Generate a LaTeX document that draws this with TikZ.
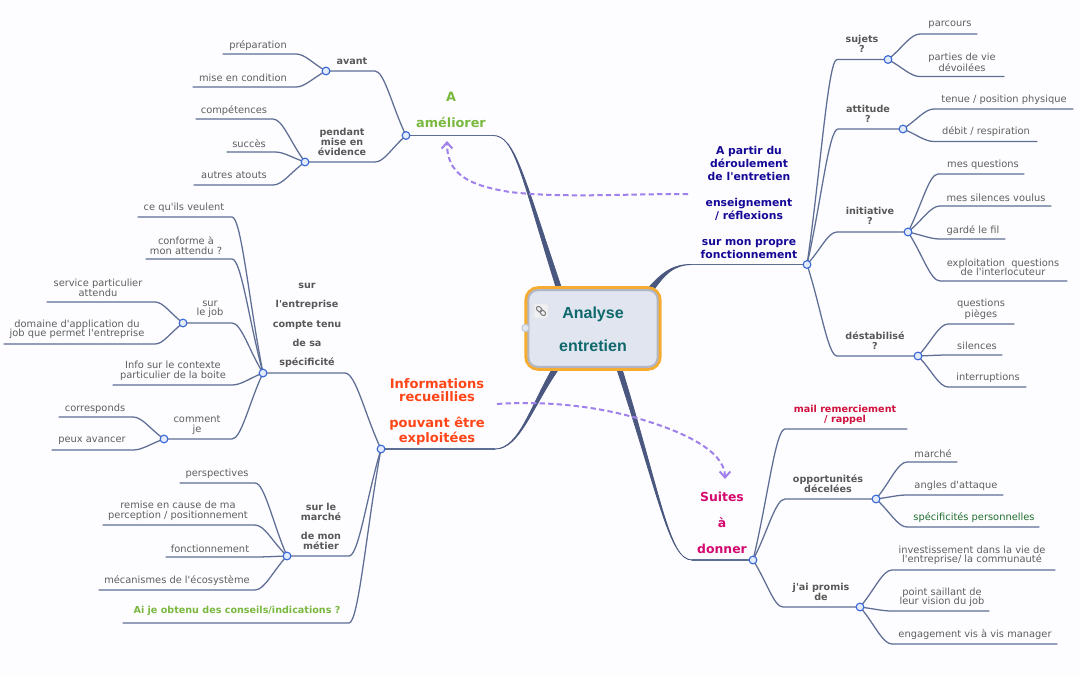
\documentclass[tikz,border=0pt]{standalone}
\usepackage{fontspec}
\setmainfont{DejaVu Sans}
\newfontfamily\plainf{DejaVu Sans}
\newfontfamily\rootfont{Liberation Sans}
\usetikzlibrary{calc,arrows.meta}
\pgfdeclarelayer{backdrop}
\pgfdeclarelayer{wires}
\pgfsetlayers{backdrop,wires,main}
\definecolor{wirecol}{HTML}{5F6E94}
\definecolor{maincol}{HTML}{4A5880}
\definecolor{leaftxt}{HTML}{5E5E5E}
\definecolor{boldtxt}{HTML}{585858}
\definecolor{dashcol}{HTML}{A080EA}
\definecolor{dotring}{HTML}{3A6AD8}
\definecolor{dotfill}{HTML}{E4EBFA}
\tikzset{
  x=0.75pt,y=-0.75pt,
  wire/.style={draw=wirecol,line width=0.95pt,line cap=round,line join=round},
  dotnode/.style={circle,draw=dotring,fill=dotfill,line width=0.85pt,minimum size=5.8pt,inner sep=0pt},
  leaftext/.style={font=\plainf\fontsize{7.4}{7.3}\selectfont,text=leaftxt,align=center,inner sep=0pt,yshift=-1pt},
  subtext/.style={font=\plainf\fontsize{7.2}{7.3}\selectfont\bfseries,text=boldtxt,align=center,inner sep=0pt},
  bigtext/.style={font=\plainf\fontsize{#1}{9.75}\selectfont\bfseries,align=center,inner sep=0pt},
  dasharrow/.style={draw=dashcol,line width=1.5pt,dash pattern=on 4pt off 2.4pt,-{Straight Barb[length=4.5pt,width=8pt,line width=1.5pt]}},
}
\newcommand{\wireto}[3]{%
  \begin{pgfonlayer}{wires}
  \draw[wire] (#1.center) .. controls ($(#1.center)!0.45!(#2)$) and ($(#2)!0.3!(#2 -| #1.center)$) .. (#2) -- (#3);
  \end{pgfonlayer}}
% parent, id, elbow x, y, end x, text x, text y, text
\newcommand{\leafbr}[8]{%
  \coordinate (#2e) at (#3,#4);
  \coordinate (#2f) at (#5,#4);
  \wireto{#1}{#2e}{#2f}
  \node[leaftext] (#2) at (#6,#7) {#8};}
% parent, id, elbow x, y, dot x, text x, text y, text
\newcommand{\subbr}[8]{%
  \node[dotnode] (#2) at (#5,#4) {};
  \coordinate (#2e) at (#3,#4);
  \wireto{#1}{#2e}{#2.center}
  \node[subtext] (#2t) at (#6,#7) {#8};}
% dot, elbow, two control points, two root points, two control points
\newcommand{\mainbr}[8]{%
  \begin{pgfonlayer}{wires}
  \filldraw[draw=maincol,fill=maincol,line width=0.6pt,line join=round] (#2) .. controls #3 and #4 .. #5 -- #6 .. controls #7 and #8 .. (#2) -- cycle;
  \draw[wire] (#1.center) -- (#2);
  \end{pgfonlayer}}
\begin{document}
\begin{tikzpicture}
\useasboundingbox (0,0) rectangle (1080,675);
\begin{pgfonlayer}{backdrop}
\fill[white!99.4!blue] (0,0) rectangle (1080,675);
\end{pgfonlayer}

% central topic
\node[draw={rgb,255:red,245;green,172;blue,48},line width=3pt,rounded corners=9pt,minimum width=100pt,minimum height=60.5pt,inner sep=0pt] (rootframe) at (593,328.5) {};
\node[draw={rgb,255:red,176;green,182;blue,196},line width=1.5pt,fill={rgb,255:red,224;green,229;blue,240},rounded corners=7pt,minimum width=97pt,minimum height=57.5pt,inner sep=0pt] (rootbox) at (593,328.5) {};
\node[inner sep=0pt,align=center,font=\rootfont\fontsize{12}{24.75}\selectfont\bfseries,text={rgb,255:red,14;green,104;blue,108}] (root) at (593,329.5) {Analyse\\entretien};
\node[circle,draw={rgb,255:red,190;green,198;blue,212},fill={rgb,255:red,226;green,231;blue,240},line width=0.75pt,minimum size=5.5pt,inner sep=0pt] (handle) at (525.5,328) {};
\node[draw={rgb,255:red,232;green,232;blue,236},fill={rgb,255:red,240;green,240;blue,242},rounded corners=1pt,minimum size=10.5pt,inner sep=0pt] (linkicon) at (541,311) {};
\foreach \d in {-2.6,2.6}
  \draw[gray,line width=0.8pt,rounded corners=1pt,rotate around={-45:(541,311)}] ($(541,311)+(\d-3,-2)$) rectangle ($(541,311)+(\d+3,2)$);

% main dots
\node[dotnode] (dA) at (406,135.5) {};
\node[dotnode] (dB) at (807,264.5) {};
\node[dotnode] (dC) at (381,449) {};
\node[dotnode] (dD) at (753,560) {};

% thick branches
\coordinate (eA) at (493,135.5);
\coordinate (eB) at (692,264.5);
\coordinate (eC) at (495,449);
\coordinate (eD) at (692,560);
\mainbr{dA}{eA}{(515,135.2)}{(521,175.5)}{(557.5,292)}{(562.5,291)}{(523,174.5)}{(515,135.8)}
\mainbr{dB}{eB}{(674,264.2)}{(663,271)}{(646.5,290)}{(651,294)}{(665,273)}{(674,264.8)}
\mainbr{dC}{eC}{(520,448.6)}{(531,403.5)}{(555.5,363.5)}{(560.5,366.5)}{(533,404.5)}{(520,449.4)}
\mainbr{dD}{eD}{(669,559.6)}{(659,495.5)}{(614.5,362)}{(619.5,361)}{(661,494.5)}{(669,560.4)}

% A améliorer
\node[bigtext=9.6,text={rgb,255:red,122;green,184;blue,64}] (lA) at (451,110) {A\\~\\améliorer};
\subbr{dA}{avant}{375}{71}{326}{352}{61}{avant}
\leafbr{avant}{prep}{296}{54}{223}{258}{44}{préparation}
\leafbr{avant}{cond}{296}{87}{193}{243}{76}{mise en condition}
\subbr{dA}{pend}{375}{162}{305}{342}{142}{pendant\\mise en\\évidence}
\leafbr{pend}{comp}{273}{119}{196}{234}{109}{compétences}
\leafbr{pend}{succ}{275}{152}{227}{249}{142}{succès}
\leafbr{pend}{atou}{273}{185}{194}{234}{174}{autres atouts}

% A partir
\node[bigtext=8.1,text={rgb,255:red,20;green,8;blue,150}] (lB) at (749,202) {A partir du\\ déroulement\\de l'entretien\\~\\enseignement\\/ réflexions\\~\\sur mon propre\\fonctionnement};
\subbr{dB}{suj}{837}{59.5}{888}{862}{44}{sujets\\?}
\leafbr{suj}{parc}{920}{34}{977}{950}{23.5}{parcours}
\leafbr{suj}{part}{920}{76.5}{1004}{962}{61}{parties de vie\\ dévoilées}
\subbr{dB}{atti}{838}{129}{903}{868}{114}{attitude\\?}
\leafbr{atti}{tenu}{934}{109}{1073}{1004}{98.5}{tenue / position physique}
\leafbr{atti}{debi}{934}{141.5}{1037}{986}{130}{débit / respiration}
\subbr{dB}{init}{837}{232}{908}{870}{216}{initiative\\?}
\leafbr{init}{mesq}{938}{174}{1024}{983}{163}{mes questions}
\leafbr{init}{mess}{940}{206}{1051}{996}{196}{mes silences voulus}
\leafbr{init}{gard}{940}{239}{1005}{973}{229}{gardé le fil}
\leafbr{init}{expl}{940}{281}{1067}{1003}{266}{exploitation\ \ questions\\de l'interlocuteur}
\subbr{dB}{dest}{837}{356}{918}{875}{341}{déstabilisé\\?}
\leafbr{dest}{ques}{948}{324}{1014}{981}{308}{questions\\ pièges}
\leafbr{dest}{sile}{948}{355}{1002}{977}{344}{silences}
\leafbr{dest}{inte}{948}{387}{1026}{988}{376}{interruptions}

% Informations
\node[bigtext=9.8,text={rgb,255:red,255;green,70;blue,24}] (lC) at (437,412) {Informations\\recueillies\\~\\pouvant être\\exploitées};
\subbr{dC}{entr}{345}{373}{263}{307}{325.5}{}
\node[font=\plainf\fontsize{7.2}{14.5}\selectfont\bfseries,text=boldtxt,align=center,inner sep=0pt] (entrt2) at (307,325.5) {sur\\l'entreprise\\compte tenu\\de sa\\spécificité};
\leafbr{entr}{veul}{232}{217}{138}{184}{206.5}{ce qu'ils veulent}
\leafbr{entr}{conf}{232}{259}{146}{186}{244}{conforme à\\mon attendu ?}
\subbr{entr}{job}{232}{323}{183}{210}{308}{}
\node[leaftext] (jobt2) at (210,308) {sur\\le job};
\leafbr{job}{serv}{155}{302}{47}{98}{286.5}{service particulier\\attendu}
\leafbr{job}{doma}{155}{344}{4}{77}{328}{domaine d'application du\\job que permet l'entreprise}
\leafbr{entr}{info}{232}{385}{113}{173}{369.5}{Info sur le contexte\\particulier de la boite}
\subbr{entr}{comm}{232}{439}{164}{197}{424}{}
\node[leaftext] (commt2) at (197,424) {comment\\je};
\leafbr{comm}{corr}{133}{417}{59}{95}{407}{corresponds}
\leafbr{comm}{peux}{133}{450}{52}{92}{439}{peux avancer}
\subbr{dC}{marc}{349}{556}{287}{321}{526.5}{sur le\\marché\\~\\de mon\\métier}
\leafbr{marc}{pers}{255}{483}{180}{217}{472}{perspectives}
\leafbr{marc}{remi}{255}{525}{103}{178}{509.5}{remise en cause de ma\\perception / positionnement}
\leafbr{marc}{fonc}{255}{557}{166}{210}{547}{fonctionnement}
\leafbr{marc}{meca}{255}{590}{99}{177}{579}{mécanismes de l'écosystème}
\coordinate (aije) at (349,623);
\coordinate (aijf) at (123,623);
\wireto{dC}{aije}{aijf}
\node[subtext,text={rgb,255:red,122;green,184;blue,64}] (aijt) at (237,611) {Ai je obtenu des conseils/indications ?};

% Suites
\node[bigtext=9.3,text={rgb,255:red,212;green,8;blue,110}] (lD) at (722,523) {Suites\\~\\à\\~\\donner};
\coordinate (maile) at (785,429);
\coordinate (mailf) at (907,429);
\wireto{dD}{maile}{mailf}
\node[subtext,text={rgb,255:red,208;green,16;blue,60}] (mailt) at (845,415) {mail remerciement\\/ rappel};
\subbr{dD}{oppo}{785}{499}{876}{828}{484}{opportunités\\décelées}
\leafbr{oppo}{marh}{907}{462}{957}{933}{452}{marché}
\leafbr{oppo}{angl}{907}{495}{1003}{956}{484}{angles d'attaque}
\leafbr{oppo}{spec}{907}{527}{1039}{974}{516}{\textcolor[HTML]{1E6E2E}{spécificités personnelles}}
\subbr{dD}{prom}{783}{607}{860}{821}{592}{j'ai promis\\de}
\leafbr{prom}{inve}{892}{570}{1055}{972}{554}{investissement dans la vie de\\ l'entreprise/ la communauté}
\leafbr{prom}{poin}{892}{611}{989}{942}{596}{point saillant de\\leur vision du job}
\leafbr{prom}{enga}{892}{644}{1057}{975}{633.5}{engagement vis à vis manager}

% relation arrows
\coordinate (arr1s) at (688,194);
\coordinate (arr1t) at (447,141);
\coordinate (arr2s) at (497,404);
\coordinate (arr2t) at (725,479);
\draw[dasharrow] (arr1s) .. controls (620,194) and (560,198) .. (510,192) .. controls (465,185) and (447,172) .. (arr1t);
\draw[dasharrow] (arr2s) .. controls (540,401) and (590,405) .. (633,417) .. controls (680,430) and (725,450) .. (arr2t);
\end{tikzpicture}
\end{document}
